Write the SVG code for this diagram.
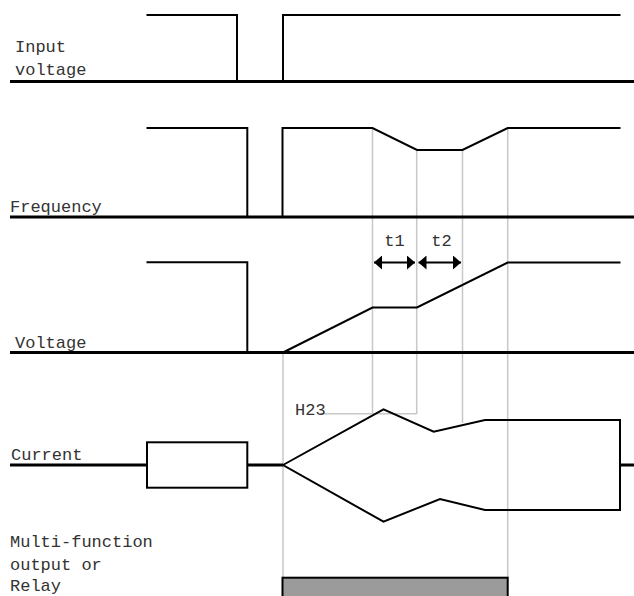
<svg xmlns="http://www.w3.org/2000/svg" width="634" height="596" viewBox="0 0 634 596">
<defs>
<style>
.base{stroke:#000;stroke-width:3;fill:none}
.sig{stroke:#000;stroke-width:2;fill:none;stroke-linejoin:miter}
.guide{stroke:#c8c8c8;stroke-width:1.5;fill:none}
.lbl{font-family:"Liberation Mono","Courier New",monospace;font-size:17px;fill:#333}
</style>
<marker id="ah" viewBox="0 0 8 14" refX="8" refY="7" markerWidth="8" markerHeight="14" markerUnits="userSpaceOnUse" orient="auto-start-reverse">
<path d="M0,0 L8,7 L0,14 Z" fill="#000"/>
</marker>
</defs>
<rect width="634" height="596" fill="#fff"/>
<g id="guides">
<line class="guide" x1="283" y1="352" x2="283" y2="578"/>
<line class="guide" x1="372.5" y1="128" x2="372.5" y2="414"/>
<line class="guide" x1="416.7" y1="150" x2="416.7" y2="414"/>
<line class="guide" x1="462.5" y1="150" x2="462.5" y2="423"/>
<line class="guide" x1="507.7" y1="128" x2="507.7" y2="578"/>
<line class="guide" x1="320" y1="413.7" x2="416.7" y2="413.7"/>
</g>
<g id="input-voltage">
<line class="base" x1="10" y1="81.5" x2="634" y2="81.5"/>
<polyline class="sig" points="146.5,15 237,15 237,81.5"/>
<polyline class="sig" points="283,81.5 283,15 620.5,15"/>
<text class="lbl" x="15" y="51.5">Input</text>
<text class="lbl" x="15" y="75">voltage</text>
</g>
<g id="frequency">
<line class="base" x1="10" y1="217" x2="634" y2="217"/>
<polyline class="sig" points="146.5,128 247.3,128 247.3,217"/>
<polyline class="sig" points="282.5,217 282.5,128 372.5,128 417,150 462.5,150 507.7,128 620.5,128"/>
<text class="lbl" x="10" y="211.5">Frequency</text>
</g>
<g id="voltage">
<line class="base" x1="10" y1="352.5" x2="634" y2="352.5"/>
<polyline class="sig" points="146.5,262.3 247.3,262.3 247.3,352.5"/>
<polyline class="sig" points="283,352.5 372.5,307.5 417,307.5 507.7,262.5 620.5,262.5"/>
<text class="lbl" x="15" y="348">Voltage</text>
</g>
<g id="connectors">
<line stroke="#000" stroke-width="2" x1="374" y1="262.5" x2="415" y2="262.5" marker-start="url(#ah)" marker-end="url(#ah)"/>
<line stroke="#000" stroke-width="2" x1="418.5" y1="262.5" x2="461" y2="262.5" marker-start="url(#ah)" marker-end="url(#ah)"/>
</g>
<g id="t-labels">
<text class="lbl" x="394.5" y="246" text-anchor="middle">t1</text>
<text class="lbl" x="441.5" y="246" text-anchor="middle">t2</text>
</g>
<g id="current">
<line class="base" x1="10" y1="465" x2="147" y2="465"/>
<rect x="147" y="442.3" width="100.3" height="45.4" fill="#fff" stroke="#000" stroke-width="2"/>
<line class="base" x1="247.3" y1="465" x2="283" y2="465"/>
<polygon class="sig" points="283,465 383.5,409.3 433.7,431.7 485,420 620,420 620,510 485,510 440,499 383.5,521.7"/>
<line class="base" x1="620" y1="465" x2="634" y2="465"/>
<text class="lbl" x="11" y="460">Current</text>
<text class="lbl" x="295" y="415">H23</text>
</g>
<g id="relay">
<rect x="282.5" y="577.7" width="225.2" height="22" fill="#9b9b9b" stroke="#000" stroke-width="2"/>
<text class="lbl" x="10" y="546.5">Multi-function</text>
<text class="lbl" x="10" y="570">output or</text>
<text class="lbl" x="10" y="591">Relay</text>
</g>
</svg>
